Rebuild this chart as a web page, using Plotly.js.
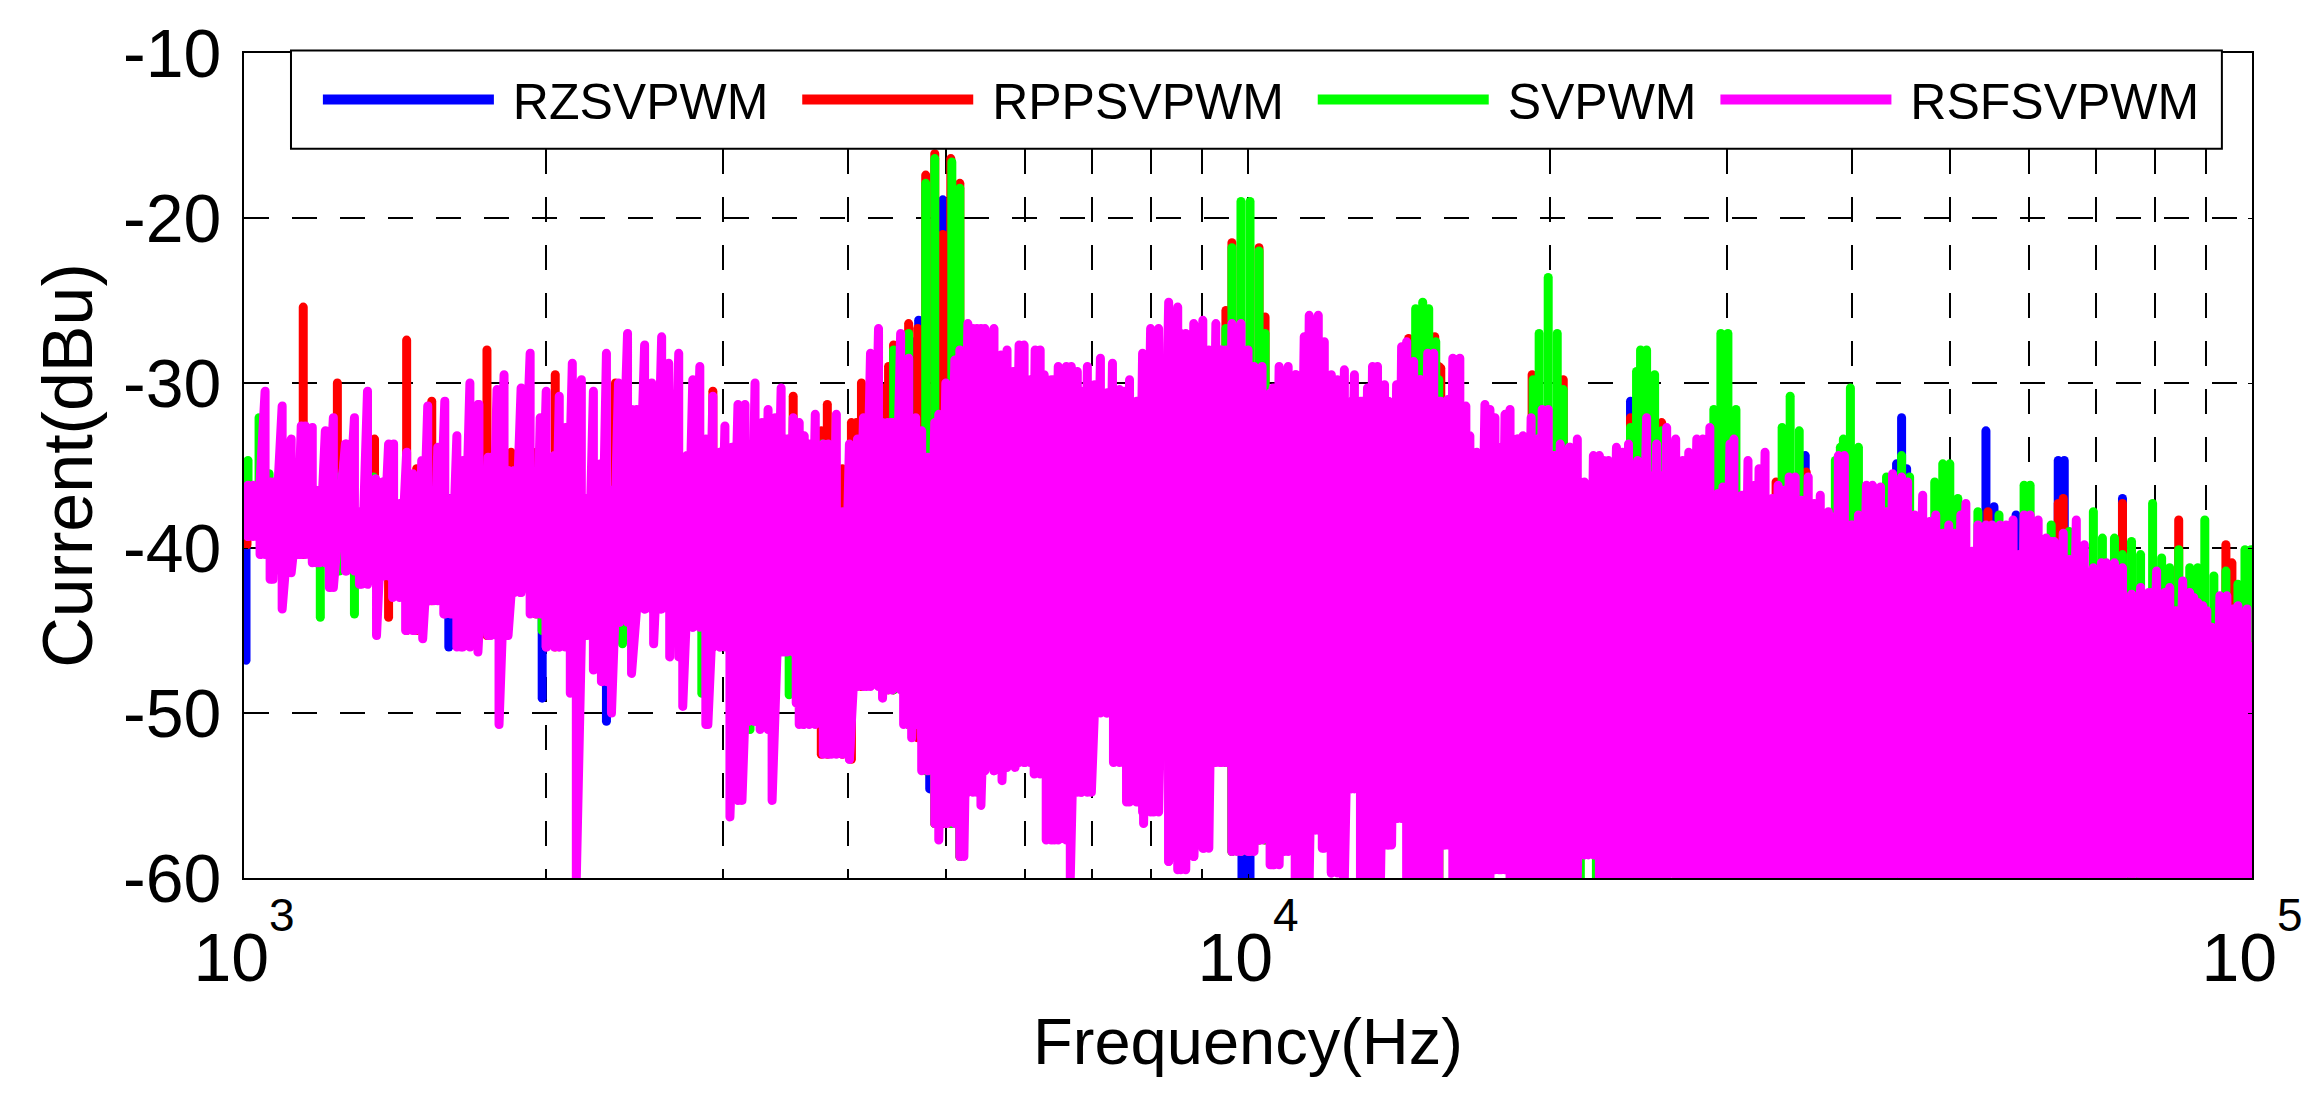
<!DOCTYPE html>
<html><head><meta charset="utf-8">
<script src="https://cdn.plot.ly/plotly-3.0.1.min.js"></script>
<style>
html,body{margin:0;padding:0;background:#fff}
.scatterlayer .js-line{stroke-linecap:round;stroke-linejoin:round}
.legendlines .js-line{stroke-width:10px !important}
</style></head><body><div id="chart" style="width:2319px;height:1108px"></div>
<script>
// Frequency positions are in milli-decades above 1 kHz (f = 1000 * 10^(m/1000)); values in dBu.
const seriesNames = ["RZSVPWM","RPPSVPWM","SVPWM","RSFSVPWM"];
const yTicks = [-60,-50,-40,-30,-20,-10];
const yTickLabels = ["-60","-50","-40","-30","-20","-10"];
const xTicks = [1000,10000,100000];
const xTickLabels = ["10<sup>3</sup>","10<sup>4</sup>","10<sup>5</sup>"];

// RSFSVPWM upper envelope
const rsfPeakPos = [4,9,13,21,29,38,47,53,57,61,68,75,81,89,101,110,117,123,131,138,144,149,155,162,168,174,177,183,189,193,200,206,212,218,225,234,246,252,259,269,276,285,291,295,301,309,314,320,327,336,342,348,355,361,367,373,382,391,
399,406,409,416,423,426,433,441,447,454,460,467,474,479,486,492,499,503,509,516,522,529,535,541,547,553,558,563,569,577,582,590,596,603,611,617,624,632,641,646,654,662,669,675,681,688,692,699,708,713,721,730,738,747,754,760,766,772,777,783,788,
793,797,804,811,819,824,830,834,840,847,853,860,865,872,876,882,889,895,903,911,921,930,938,946,955,961,968,974,978,984,993,1000,1006,1014,1022,1025,1031,1040,1048,1056,1061,1070,1076,1083,1089,1096,1106,1114,1119,1124,1129,1136,1140,1143,1148,1153,1158,1165,1171,1179,1185,1190,
1192,1195,1199,1204,1211,1217,1221,1224,1228,1236,1241,1246,1250,1256,1261,1268,1274,1282,1288,1293,1299,1305,1311,1320,1328,1335,1339,1344,1350,1359,1367,1373,1379,1388,1397,1407,1411,1417,1426,1433,1439,1447,1453,1460,1468,1473,1480,1484,1492,1498,1505,1509,1515,1522,1528,1534,1539,1545,1551,1558,1564,1570,1578,1582,1586,1588,
1594,1602,1608,1616,1622,1630,1636,1642,1651,1657,1664,1672,1679,1685,1692,1698,1704,1710,1715,1721,1727,1735,1741,1749,1755,1762,1768,1773,1779,1787,1795,1803,1812,1818,1825,1833,1842,1850,1855,1863,1871,1880,1889,1897,1905,1913,1918,1924,1931,1938,1942,1946,1951,1955,1960,1963,1968,1975,1981,1986,1995,2000];
const rsfPeakVal = [-36.2,-36.2,-36.6,-30.5,-36.0,-31.4,-33.4,-37.0,-32.6,-32.6,-32.7,-36.5,-32.9,-32.1,-33.7,-32.1,-37.8,-30.5,-35.8,-36.0,-33.7,-33.7,-37.3,-34.2,-35.5,-37.8,-34.7,-31.4,-38.3,-33.9,-31.1,-37.0,-33.2,-34.7,-30.0,-31.3,-34.5,-30.4,-29.5,-35.3,-30.3,-28.2,-35.7,-32.1,-30.5,-34.4,-30.8,-32.7,-28.8,-29.8,-37.0,-30.5,-34.9,-28.2,-36.5,-30.0,-27.0,-31.6,
-27.7,-30.0,-37.5,-27.2,-28.8,-36.2,-28.2,-34.4,-29.8,-29.0,-33.4,-30.8,-34.2,-32.6,-33.9,-31.3,-31.3,-34.2,-30.0,-32.4,-31.6,-32.1,-30.3,-33.4,-32.1,-32.4,-33.2,-33.7,-31.9,-33.7,-33.7,-31.9,-37.8,-33.7,-33.4,-32.1,-28.2,-26.7,-32.4,-32.4,-27.0,-28.5,-32.1,-32.9,-34.5,-32.4,-31.9,-30.0,-28.6,-28.0,-26.4,-26.7,-26.7,-26.7,-28.3,-28.0,-29.3,-27.7,-27.7,-29.8,-28.0,
-28.0,-29.5,-29.8,-29.0,-29.0,-29.0,-29.3,-30.5,-29.0,-30.1,-28.5,-30.6,-28.8,-30.4,-30.5,-29.8,-31.1,-28.2,-26.7,-26.7,-25.1,-25.4,-27.0,-26.4,-26.2,-28.0,-26.4,-28.0,-28.0,-26.4,-26.4,-28.0,-29.0,-29.0,-30.6,-30.3,-29.0,-29.0,-29.5,-27.2,-25.9,-25.9,-27.5,-29.5,-29.8,-29.2,-29.5,-31.1,-30.3,-29.0,-29.0,-30.1,-31.1,-31.6,-30.1,-27.8,-27.5,-28.7,-29.8,-28.2,-28.2,-31.1,
-31.1,-32.4,-31.0,-28.5,-28.5,-31.4,-33.2,-34.7,-34.2,-31.3,-31.6,-32.1,-33.9,-31.9,-31.6,-33.4,-33.2,-32.1,-33.4,-31.6,-31.6,-34.4,-33.7,-33.9,-33.4,-36.0,-36.2,-34.4,-34.4,-34.7,-33.9,-34.2,-33.7,-34.7,-32.1,-33.7,-35.6,-32.7,-33.4,-34.7,-34.2,-33.4,-33.4,-32.7,-36.7,-36.3,-33.7,-33.4,-36.8,-34.7,-36.2,-35.2,-34.2,-37.0,-36.2,-36.5,-35.7,-35.7,-37.1,-35.7,-37.3,-36.8,-37.8,-38.1,-38.1,-34.4,
-34.4,-38.6,-38.0,-36.2,-36.2,-36.3,-37.8,-35.5,-35.7,-36.0,-38.0,-36.8,-38.4,-38.0,-39.1,-38.6,-39.1,-38.0,-37.3,-40.2,-38.6,-38.6,-38.6,-38.6,-38.6,-38.3,-40.4,-38.0,-38.0,-38.3,-39.4,-39.6,-39.1,-40.7,-38.3,-39.8,-41.2,-40.9,-40.9,-40.9,-41.2,-42.8,-42.4,-42.7,-41.4,-42.7,-42.4,-43.8,-42.0,-42.7,-43.0,-43.3,-43.5,-43.8,-44.8,-45.1,-42.9,-42.9,-43.7,-43.5,-43.7,-46.0];

// RSFSVPWM lower envelope
const rsfDipPos = [4,16,26,38,47,55,72,85,102,115,132,139,148,161,170,178,185,199,216,233,243,254,263,275,285,301,314,325,331,339,348,356,366,374,386,399,408,414,424,437,447,462,474,484,496,508,514,526,538,550,553,
557,585,603,620,636,645,657,665,675,692,700,717,726,734,747,755,768,778,787,799,807,823,834,844,859,866,879,896,906,921,933,946,956,972,989,1002,1011,1026,1036,1047,1057,1067,1074,1083,1095,1103,1112,1121,1132,1139,1148,1163,1172,1186,1196,1205,1218,1230,1239,1252,1269,1282,1291,1303,1312,1321,1335,1354,1400,1450,1500,1600,1700,1800,1900,2000];
const rsfDipVal = [-39.3,-40.4,-41.9,-43.7,-41.5,-40.4,-40.9,-42.4,-41.4,-42.2,-45.3,-41.7,-43.0,-45.0,-45.0,-45.5,-43.2,-44.0,-46.0,-46.3,-45.3,-50.7,-45.3,-42.7,-44.0,-46.0,-46.0,-48.8,-60.0,-45.3,-47.4,-48.1,-50.0,-44.5,-47.6,-43.7,-45.8,-43.7,-46.6,-49.6,-44.8,-50.7,-46.0,-56.3,-55.3,-50.5,-51.0,-55.3,-46.3,-49.4,-50.7,
-50.7,-52.5,-52.8,-48.4,-49.1,-48.6,-50.7,-51.5,-53.5,-57.7,-56.7,-58.7,-54.8,-55.6,-53.5,-54.1,-53.3,-53.0,-53.7,-57.7,-57.7,-60.0,-54.8,-54.8,-50.0,-53.0,-55.4,-56.7,-56.0,-59.0,-59.5,-58.7,-58.2,-53.0,-58.4,-58.4,-57.7,-59.2,-58.4,-60.0,-60.0,-57.1,-58.2,-59.7,-60.0,-54.6,-60.0,-60.0,-60.0,-58.0,-56.4,-60.0,-60.0,-60.0,-58.0,-60.0,-60.0,-60.0,-60.0,-59.5,-60.0,-60.0,-60.0,-60.0,-60.0,-60.0,-58.6,-60.0,-60.0,-60.0,-60.0,-60.0,-60.0,-60.0,-60.0,-60.0];

// SVPWM: where it shows above or below RSFSVPWM
const svPeakPos = [4,15,25,95,129,647,662,679,688,705,713,978,984,993,1002,1011,1017,1167,1174,1180,1187,1190,1284,1290,1299,1308,1314,1381,1387,1391,1397,1405,1412,1464,1471,1478,1486,1532,1540,1549,1585,1590,1593,1600,1608,1636,1651,1659,1684,1692,1699,1707,1727,1748,1773,1779,1800,1818,1842,1851,1863,1871,1880,1889,1901,1910,1918,1927,1938,1946,1953,1962,1974,1986,1993,1999];
const svPeakVal = [-34.7,-32.1,-35.5,-35.7,-35.7,-28.0,-27.0,-17.9,-16.4,-16.6,-18.2,-26.7,-21.8,-19.0,-19.0,-22.0,-27.0,-25.5,-25.1,-25.5,-27.5,-29.8,-29.8,-27.0,-23.6,-27.0,-30.4,-32.7,-29.3,-28.0,-28.0,-29.5,-32.9,-31.6,-27.0,-27.0,-31.6,-32.7,-30.8,-32.9,-34.7,-33.9,-33.4,-30.3,-33.9,-35.7,-34.4,-35.7,-36.0,-34.9,-34.9,-37.0,-37.8,-38.0,-36.2,-36.2,-38.6,-39.0,-37.8,-39.4,-39.4,-40.4,-39.6,-40.4,-37.3,-40.6,-41.2,-40.1,-41.2,-41.2,-38.3,-41.7,-41.4,-42.2,-40.1,-40.1];
const svDipPos = [76,110,227,297,377,456,504,543,576,683,708,1177,1259,1331,1347];
const svDipVal = [-44.2,-44.0,-45.2,-45.0,-45.8,-48.8,-51.0,-48.9,-47.8,-53.5,-53.8,-60.0,-58.0,-60.0,-60.0];

// RPPSVPWM
const rppPeakPos = [59,93,130,162,172,187,242,266,291,310,370,467,547,575,581,596,605,610,615,638,642,647,662,671,679,688,696,704,713,978,984,1011,1017,1160,1186,1190,1192,1283,1314,1381,1412,1526,1556,1737,1807,1812,1871,1927,1974,1980];
const rppPeakVal = [-25.4,-30.0,-33.4,-27.4,-35.2,-31.1,-28.0,-34.2,-34.2,-29.5,-30.0,-30.5,-30.8,-32.9,-31.3,-35.2,-32.4,-32.4,-30.0,-30.3,-29.0,-27.7,-26.4,-26.7,-17.4,-16.1,-21.0,-16.4,-17.9,-25.6,-21.5,-21.8,-26.0,-27.3,-27.2,-29.0,-29.1,-29.5,-29.8,-32.1,-32.4,-36.0,-35.4,-37.8,-37.3,-37.0,-37.3,-38.3,-39.8,-40.9];
const rppDipPos = [3,144];
const rppDipVal = [-39.8,-44.2];

// RZSVPWM
const rzPeakPos = [426,668,672,696,1381,1555,1646,1651,1656,1735,1743,1765,1807,1813,1871];
const rzPeakVal = [-35.6,-27.5,-26.2,-18.9,-31.1,-34.4,-34.9,-32.1,-35.2,-32.9,-37.5,-38.0,-34.7,-34.7,-37.0];
const rzDipPos = [2,204,297,339,361,576,683,994,1002,1297,1343];
const rzDipVal = [-46.8,-46.0,-49.1,-45.3,-50.5,-49.6,-54.6,-60.0,-60.0,-59.4,-57.4];

const hz = m => 1000 * Math.pow(10, m / 1000);

// Inner end of a stem: a neighbouring dip / the lowest neighbouring peak of the front series
function innerFloor(p){
  let v = null, d = 1e9, near = null;
  rsfDipPos.forEach((q,i)=>{ const a=Math.abs(q-p); if(a<d){d=a;near=rsfDipVal[i];} if(a<=12&&(v===null||rsfDipVal[i]>v)) v=rsfDipVal[i]; });
  if(p>900) return near;
  return v===null?near:v;
}
function innerCeil(p){
  let v = null, d = 1e9, near = null;
  rsfPeakPos.forEach((q,i)=>{ const a=Math.abs(q-p); if(a<d){d=a;near=rsfPeakVal[i];} if(a<=12&&(v===null||rsfPeakVal[i]<v)) v=rsfPeakVal[i]; });
  return v===null?near:v;
}
function frontPath(){
  const x=[],y=[];
  rsfPeakPos.forEach((p,i)=>{ x.push(hz(p),hz(p)); y.push(rsfPeakVal[i],innerFloor(p)); });
  x.push(null); y.push(null);
  rsfDipPos.forEach((p,i)=>{ x.push(hz(p),hz(p)); y.push(innerCeil(p),rsfDipVal[i]); });
  return {x,y};
}
function stemPath(pp,pv,dp,dv){
  const x=[],y=[];
  pp.forEach((p,i)=>{ x.push(hz(p),hz(p),null); y.push(pv[i],innerFloor(p),null); });
  dp.forEach((p,i)=>{ x.push(hz(p),hz(p),null); y.push(innerCeil(p),dv[i],null); });
  return {x,y};
}
const paths = [
  stemPath(rzPeakPos,rzPeakVal,rzDipPos,rzDipVal),
  stemPath(rppPeakPos,rppPeakVal,rppDipPos,rppDipVal),
  stemPath(svPeakPos,svPeakVal,svDipPos,svDipVal),
  frontPath()
];
const colors = ["#0000ff","#ff0000","#00ff00","#ff00ff"];
const nameTail = ["\u00a0\u2009","\u00a0\u2009","\u00a0",""];
const data = paths.map((p,i)=>({
  type:"scatter",mode:"lines",x:p.x,y:p.y,name:"\u00a0"+seriesNames[i]+nameTail[i],
  line:{color:colors[i],width:9,simplify:false},cliponaxis:false,connectgaps:false,hoverinfo:"skip"
}));
const dash = "25px,23px";
const layout = {
  width:2319,height:1108,paper_bgcolor:"#fff",plot_bgcolor:"#fff",
  margin:{l:244,r:67,t:53,b:229.5},
  font:{family:"Liberation Sans, Arial, sans-serif",color:"#000"},
  showlegend:true,
  legend:{orientation:"h",x:0.0368,y:0.991,xanchor:"left",yanchor:"top",bgcolor:"rgba(0,0,0,0)",borderwidth:0,
    itemwidth:171,font:{size:50,color:"#000"},itemclick:false,itemdoubleclick:false},
  xaxis:{type:"log",range:[3,5],tickmode:"array",tickvals:xTicks,ticktext:xTickLabels,
    showline:true,mirror:"ticks",linecolor:"#000",linewidth:2,ticks:"inside",ticklen:4,tickcolor:"#000",
    showgrid:true,gridcolor:"#000",gridwidth:1.5,griddash:dash,zeroline:false,
    minor:{dtick:"D1",showgrid:true,gridcolor:"#000",gridwidth:1.5,griddash:dash,ticks:""},
    tickfont:{size:68},ticklabelstandoff:19,
    title:{text:"Frequency(Hz)",font:{size:65},standoff:25},automargin:false},
  yaxis:{range:[-60,-10],tickmode:"array",tickvals:yTicks,ticktext:yTickLabels,
    showline:true,mirror:"ticks",linecolor:"#000",linewidth:2,ticks:"inside",ticklen:4,tickcolor:"#000",
    showgrid:true,gridcolor:"#000",gridwidth:1.5,griddash:dash,zeroline:false,
    tickfont:{size:68},ticklabelstandoff:7,
    title:{text:"Current(dBu)",font:{size:70},standoff:8},automargin:false},
  shapes:[{type:"rect",xref:"paper",yref:"paper",layer:"above",x0:0.0234,x1:0.985,y0:0.884,y1:1.003,
    fillcolor:"#fff",line:{color:"#000",width:2}}]
};
Plotly.newPlot("chart",data,layout,{displayModeBar:false,responsive:false}).then(()=>{
  // the reference sets its exponents larger and higher than Plotly's default superscript
  document.querySelectorAll(".xtick text tspan[dy]").forEach(t=>{
    if(parseFloat(t.getAttribute("dy"))<0){ t.style.fontSize="46px"; t.setAttribute("dy","-50px"); }
    else t.setAttribute("dy","50px");
  });
});
</script></body></html>
